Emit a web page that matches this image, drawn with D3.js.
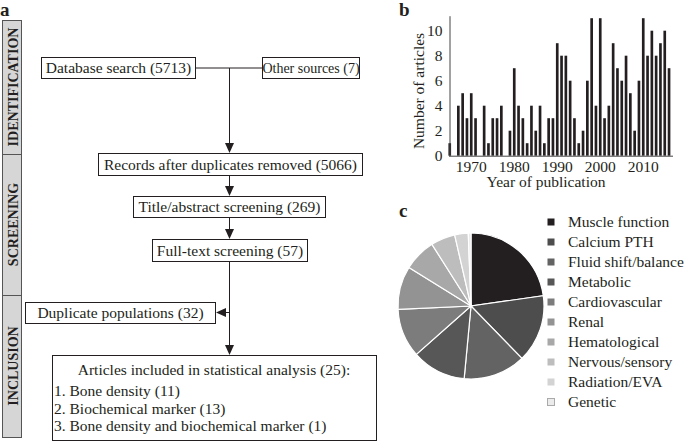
<html>
<head>
  <script src="https://d3js.org/d3.v7.min.js"></script>
  <style>
    body { margin: 0; background: #fff; }
    text { font-family: "Liberation Serif", "Times New Roman", serif; fill: #231f20; }
  </style>
</head>
<body>
<svg id="fig" width="686" height="441"></svg>
<script>

// panel b: articles per year
const years = d3.range(1965, 2017);
const articleCounts = [
  1, 0, 4, 5, 3, 5, 3, 0, 4, 1, 3, 3, 4, 0, 2, 7, 4, 3, 1, 4,
  2, 4, 1, 3, 3, 9, 8, 8, 6, 3, 1, 2, 6, 11, 4, 11, 3, 4, 9, 7,
  6, 8, 5, 2, 6, 11, 8, 10, 8, 9, 10, 7
];
const yearTicks = [1970, 1980, 1990, 2000, 2010];
const countTicks = [0, 2, 4, 6, 8, 10];

// panel c: topics
const topics = ["Muscle function", "Calcium PTH", "Fluid shift/balance", "Metabolic",
  "Cardiovascular", "Renal", "Hematological", "Nervous/sensory", "Radiation/EVA", "Genetic"];
const topicCounts = [38, 25, 23, 20, 18, 16, 12, 9, 5, 1];
const topicColors = ["#231f20", "#4d4d4d", "#636363", "#575757", "#7c7c7c",
  "#939393", "#a8a8a8", "#bdbdbd", "#d3d3d3", "#ebebeb"];

// panel a: flow diagram
const stages = [
  {name: "IDENTIFICATION", y0: 20, y1: 154},
  {name: "SCREENING", y0: 154, y1: 295},
  {name: "INCLUSION", y0: 295, y1: 437}
];
const boxes = [
  {text: "Database search (5713)", x0: 41, x1: 195, y0: 57, y1: 78, fs: 15.5},
  {text: "Other sources (7)", x0: 262, x1: 359, y0: 57, y1: 78, fs: 14},
  {text: "Records after duplicates removed (5066)", x0: 98, x1: 362, y0: 153, y1: 175, fs: 15.5},
  {text: "Title/abstract screening (269)", x0: 133, x1: 325, y0: 196, y1: 217, fs: 15.5},
  {text: "Full-text screening (57)", x0: 152, x1: 307, y0: 239, y1: 261, fs: 15.5},
  {text: "Duplicate populations (32)", x0: 25, x1: 215, y0: 302, y1: 323, fs: 15.5}
];
const finalTitle = "Articles included in statistical analysis (25):";
const finalItems = ["1. Bone density (11)", "2. Biochemical marker (13)",
  "3. Bone density and biochemical marker (1)"];

const svg = d3.select("#fig");

// ---------- a ----------
svg.append("text").attr("x", 0).attr("y", 16)
  .attr("font-size", 19).attr("font-weight", "bold").text("a");

const side = svg.append("g");
stages.forEach(s => {
  side.append("rect")
    .attr("x", 2.5).attr("y", s.y0 + 0.5)
    .attr("width", 19).attr("height", s.y1 - s.y0)
    .attr("fill", "#d6d6d6").attr("stroke", "#555").attr("stroke-width", 1);
  side.append("text")
    .attr("transform", `translate(17.5,${(s.y0 + s.y1) / 2}) rotate(-90)`)
    .attr("text-anchor", "middle")
    .attr("font-size", 14).attr("font-weight", "bold")
    .text(s.name);
});

const flow = svg.append("g");
boxes.forEach(b => {
  flow.append("rect")
    .attr("x", b.x0 + 0.5).attr("y", b.y0 + 0.5)
    .attr("width", b.x1 - b.x0).attr("height", b.y1 - b.y0)
    .attr("fill", "#fff").attr("stroke", "#231f20");
  flow.append("text")
    .attr("x", (b.x0 + b.x1) / 2 + 0.5).attr("y", (b.y0 + b.y1) / 2 + 5.5)
    .attr("text-anchor", "middle").attr("font-size", b.fs)
    .text(b.text);
});

flow.append("rect")
  .attr("x", 52.5).attr("y", 355.5).attr("width", 324).attr("height", 85)
  .attr("fill", "#fff").attr("stroke", "#231f20");
flow.append("text").attr("x", 214).attr("y", 375)
  .attr("text-anchor", "middle").attr("font-size", 15.5).text(finalTitle);
finalItems.forEach((t, i) => {
  flow.append("text").attr("x", 54).attr("y", 396 + i * 17.5)
    .attr("font-size", 15.5).text(t);
});

const lineCol = "#231f20";
function line(x1, y1, x2, y2) {
  flow.append("line").attr("x1", x1).attr("y1", y1).attr("x2", x2).attr("y2", y2)
    .attr("stroke", lineCol).attr("stroke-width", 1);
}
function headDown(x, y) {
  flow.append("path").attr("d", `M${x},${y} L${x - 4.5},${y - 10} L${x + 4.5},${y - 10} Z`)
    .attr("fill", lineCol);
}
function headLeft(x, y) {
  flow.append("path").attr("d", `M${x},${y} L${x + 10},${y - 4.5} L${x + 10},${y + 4.5} Z`)
    .attr("fill", lineCol);
}
const cx = 229.5;
line(195, 68, 262, 68);
line(cx, 68, cx, 145); headDown(cx, 153);
line(cx, 175, cx, 188); headDown(cx, 196);
line(cx, 217, cx, 231); headDown(cx, 239);
line(cx, 261, cx, 347); headDown(cx, 355);
line(cx, 312.5, 225, 312.5); headLeft(216, 312.5);

// ---------- b ----------
svg.append("text").attr("x", 399).attr("y", 16)
  .attr("font-size", 19).attr("font-weight", "bold").text("b");

const x = d3.scaleBand().domain(years).range([447.6, 671.2]).paddingInner(0.38).paddingOuter(0.19);
const y = d3.scaleLinear().domain([0, 11.2]).range([155.7, 15.7]);

const bars = svg.append("g");
bars.selectAll("rect")
  .data(years.map((yr, i) => ({yr, n: articleCounts[i]})))
  .join("rect")
  .attr("x", d => x(d.yr))
  .attr("width", x.bandwidth())
  .attr("y", d => y(d.n))
  .attr("height", d => y(0) - y(d.n))
  .attr("fill", "#231f20");

const xAxis = svg.append("g").attr("transform", `translate(0,${y(0)})`)
  .call(d3.axisBottom(x).tickValues(yearTicks).tickSize(0).tickPadding(5))
  .attr("font-size", 15.5).attr("font-family", "Liberation Serif");
xAxis.select(".domain").attr("d", `M449,0.5H673`).attr("stroke", "#444");
xAxis.selectAll("text").style("font-size", "15.5px").attr("fill", "#231f20");

const yAxis = svg.append("g").attr("transform", "translate(449.5,0)")
  .call(d3.axisLeft(y).tickValues(countTicks).tickSize(0).tickPadding(7))
  .attr("font-size", 15.5).attr("font-family", "Liberation Serif");
yAxis.select(".domain").attr("stroke", "#444");
yAxis.selectAll("text").style("font-size", "15.5px").attr("fill", "#231f20");

svg.append("text").attr("x", 546).attr("y", 187)
  .attr("text-anchor", "middle").attr("font-size", 15.5).text("Year of publication");
svg.append("text")
  .attr("transform", "translate(424,91) rotate(-90)")
  .attr("text-anchor", "middle").attr("font-size", 15.5).text("Number of articles");

// ---------- c ----------
svg.append("text").attr("x", 399).attr("y", 217)
  .attr("font-size", 19).attr("font-weight", "bold").text("c");

const pie = d3.pie().sort(null).value(d => d);
const arc = d3.arc().innerRadius(0).outerRadius(73);
const pieG = svg.append("g").attr("transform", "translate(471,306)");
pieG.selectAll("path")
  .data(pie(topicCounts))
  .join("path")
  .attr("d", arc)
  .attr("fill", (d, i) => topicColors[i])
  .attr("stroke", "#fff").attr("stroke-width", 1.2);

const legend = svg.append("g").attr("transform", "translate(547,222)");
topics.forEach((t, i) => {
  const row = legend.append("g").attr("transform", `translate(0,${i * 20})`);
  row.append("rect").attr("x", 0.5).attr("y", -3.5).attr("width", 7).attr("height", 7)
    .attr("fill", topicColors[i]).attr("stroke", i === topics.length - 1 ? "#aaa" : "none");
  row.append("text").attr("x", 21).attr("y", 5).attr("font-size", 15.5).text(t);
});

</script>
</body>
</html>
